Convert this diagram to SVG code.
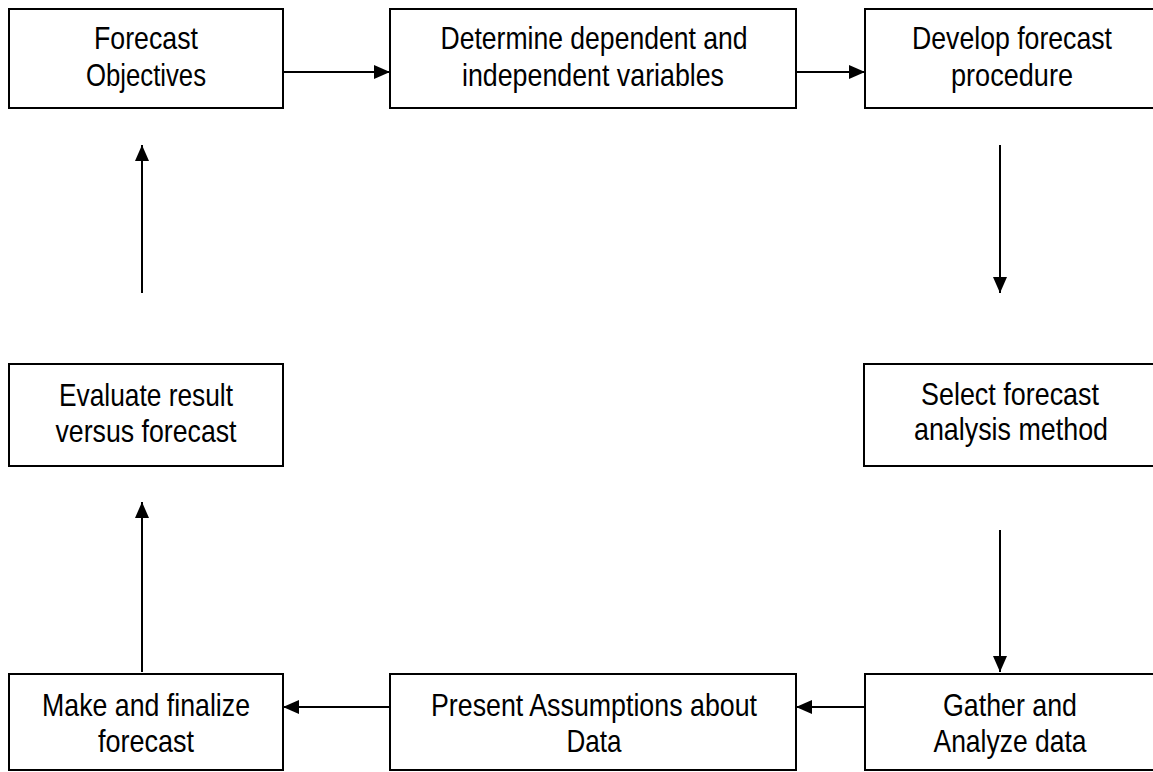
<svg xmlns="http://www.w3.org/2000/svg" width="1153" height="772" viewBox="0 0 1153 772">
<style>
.box{fill:#fff;stroke:#000;stroke-width:2}
.lbl{font-family:"Liberation Sans Narrow","Liberation Sans",Arial,sans-serif;font-size:32px;fill:#000;text-anchor:middle}
.conn{stroke:#000;stroke-width:2;fill:none;marker-end:url(#ah)}
</style>
<defs>
<marker id="ah" markerUnits="userSpaceOnUse" markerWidth="16" markerHeight="16" viewBox="0 0 16 16" refX="16" refY="8" orient="auto">
<path d="M0,1 L16,8 L0,15 Z" fill="#000"/>
</marker>
</defs>
<rect width="1153" height="772" fill="#fff"/>
<g id="connectors">
<line class="conn" x1="283" y1="72" x2="390" y2="72"/>
<line class="conn" x1="796" y1="72" x2="865" y2="72"/>
<line class="conn" x1="1000" y1="145" x2="1000" y2="293"/>
<line class="conn" x1="1000" y1="530" x2="1000" y2="672"/>
<line class="conn" x1="865" y1="707" x2="796" y2="707"/>
<line class="conn" x1="390" y1="707" x2="283" y2="707"/>
<line class="conn" x1="142" y1="672" x2="142" y2="502"/>
<line class="conn" x1="142" y1="293" x2="142" y2="145"/>
</g>
<g id="n1">
<rect class="box" x="9" y="9" width="274" height="99"/>
<text class="lbl" x="146" y="49" textLength="104" lengthAdjust="spacingAndGlyphs">Forecast</text>
<text class="lbl" x="146" y="86" textLength="120" lengthAdjust="spacingAndGlyphs">Objectives</text>
</g>
<g id="n2">
<rect class="box" x="390" y="9" width="406" height="99"/>
<text class="lbl" x="594" y="49" textLength="307" lengthAdjust="spacingAndGlyphs">Determine dependent and</text>
<text class="lbl" x="593" y="86" textLength="262" lengthAdjust="spacingAndGlyphs">independent variables</text>
</g>
<g id="n3">
<rect class="box" x="865" y="9" width="300" height="99"/>
<text class="lbl" x="1012" y="49" textLength="200" lengthAdjust="spacingAndGlyphs">Develop forecast</text>
<text class="lbl" x="1012" y="86" textLength="122" lengthAdjust="spacingAndGlyphs">procedure</text>
</g>
<g id="n4">
<rect class="box" x="864" y="364" width="300" height="102"/>
<text class="lbl" x="1010" y="405" textLength="178" lengthAdjust="spacingAndGlyphs">Select forecast</text>
<text class="lbl" x="1011" y="440" textLength="194" lengthAdjust="spacingAndGlyphs">analysis method</text>
</g>
<g id="n5">
<rect class="box" x="865" y="674" width="300" height="96"/>
<text class="lbl" x="1010" y="716" textLength="134" lengthAdjust="spacingAndGlyphs">Gather and</text>
<text class="lbl" x="1010" y="752" textLength="153" lengthAdjust="spacingAndGlyphs">Analyze data</text>
</g>
<g id="n6">
<rect class="box" x="390" y="674" width="406" height="96"/>
<text class="lbl" x="594" y="716" textLength="326" lengthAdjust="spacingAndGlyphs">Present Assumptions about</text>
<text class="lbl" x="594" y="752" textLength="55" lengthAdjust="spacingAndGlyphs">Data</text>
</g>
<g id="n7">
<rect class="box" x="9" y="674" width="274" height="96"/>
<text class="lbl" x="146" y="716" textLength="208" lengthAdjust="spacingAndGlyphs">Make and finalize</text>
<text class="lbl" x="146" y="752" textLength="96" lengthAdjust="spacingAndGlyphs">forecast</text>
</g>
<g id="n8">
<rect class="box" x="9" y="364" width="274" height="102"/>
<text class="lbl" x="146" y="406" textLength="174" lengthAdjust="spacingAndGlyphs">Evaluate result</text>
<text class="lbl" x="146" y="442" textLength="181" lengthAdjust="spacingAndGlyphs">versus forecast</text>
</g>
</svg>
